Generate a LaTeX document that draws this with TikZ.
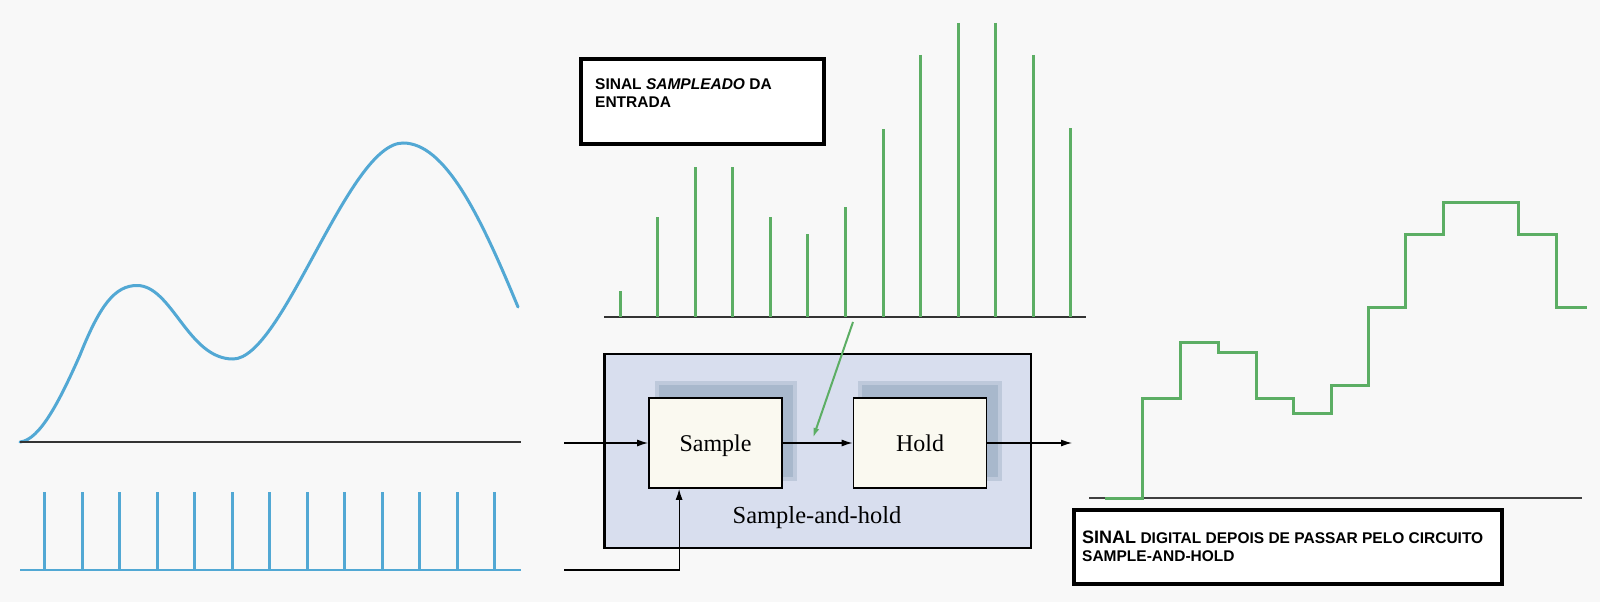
\documentclass[tikz,border=0pt]{standalone}
\usepackage{fontspec}
\setmainfont{Liberation Serif}
\newfontfamily\labelfont{Liberation Sans}
\usetikzlibrary{arrows.meta}
\definecolor{bluesig}{RGB}{82,168,212}
\definecolor{greensig}{RGB}{92,174,100}
\definecolor{shlfill}{RGB}{216,222,238}
\definecolor{shadowc}{RGB}{168,184,204}
\definecolor{boxfill}{RGB}{250,249,240}
\definecolor{bgc}{RGB}{248,248,248}
\begin{document}
\begin{tikzpicture}[x=1pt,y=-1pt,
  blk/.style={draw=black,line width=1.8pt,fill=boxfill,minimum width=133pt,minimum height=90pt,inner sep=0pt,text height=16pt,text depth=0pt,font=\fontsize{24}{24}\selectfont},
  conn/.style={line width=1.2pt,-{Latex[length=11pt,width=7pt]}},
  lblbox/.style={draw=black,line width=3.5pt,fill=white,inner sep=0pt},
  lbltext/.style={anchor=base west,inner sep=0pt,font=\labelfont\bfseries\fontsize{15.5}{18}\selectfont},
  bluepulse/.style={bluesig,line width=3pt},
  greenpulse/.style={greensig,line width=3pt},
  axisline/.style={black!80,line width=1.2pt}
]
\fill[bgc] (0,0) rectangle (1600,602);
\useasboundingbox (0,0) rectangle (1600,602);

% ---- analog input signal ----
\draw[bluesig,line width=3pt,line cap=round] (20,442)
  .. controls (40,440) and (60,400) .. (80,355)
  .. controls (100,305) and (115,285.5) .. (137,285.5)
  .. controls (172,285.5) and (188,359) .. (233,359)
  .. controls (283,359) and (348,143) .. (403,143)
  .. controls (445,143) and (480,215) .. (518,307);
\draw[axisline] (20,442) -- (521,442);

% ---- sampling pulses ----
\draw[bluesig,line width=1.3pt] (20,570) -- (521,570);
\foreach \i in {0,...,12} \draw[bluepulse] ({44.6+37.5*\i},492) -- ({44.6+37.5*\i},570);

% ---- sampled signal ----
\draw[axisline] (604,317) -- (1086,317);
\foreach \i/\t in {0/291,1/217,2/167,3/167,4/217,5/234,6/207,7/129,8/55,9/23,10/23,11/55,12/128}
  \draw[greenpulse] ({620+37.58*\i},\t) -- ({620+37.58*\i},317);

\node[lblbox,minimum width=243pt,minimum height=85pt] (lab1) at (702.5,101.5) {};
\node[lbltext] (lab1a) at (595,89) {SINAL \textit{SAMPLEADO} DA};
\node[lbltext] (lab1b) at (595,107) {ENTRADA};

% ---- sample-and-hold block ----
\node[draw=black,line width=2.5pt,fill=shlfill,minimum width=426.5pt,minimum height=194pt,inner sep=0pt] (shl) at (817.5,451) {};
\fill[shadowc!55!shlfill] (655,381) rectangle (797,481);
\fill[shadowc!55!shlfill] (858,381) rectangle (1002,481);
\fill[shadowc] (659,385) rectangle (793,477);
\fill[shadowc] (862,385) rectangle (998,477);
\node[blk] (samp) at (715.5,443) {Sample};
\node[blk] (hold) at (920,443) {Hold};
\node[anchor=base,inner sep=0pt,font=\fontsize{24.5}{24.5}\selectfont] (shltext) at (817,523) {Sample-and-hold};

\coordinate (inL) at (564,443);
\coordinate (clkL) at (564,570);
\coordinate (outR) at (1072,443);
\draw[conn] (inL) -- (samp.west);
\draw[conn] (samp.east) -- (hold.west);
\draw[conn] (hold.east) -- (outR);
\draw[conn] (clkL) -| ([xshift=31pt]samp.south west);

\coordinate (gs) at (853,322);
\coordinate (gt) at (813,438);
\draw[greensig,line width=2pt,-{Latex[length=10pt,width=6pt]}] (gs) -- (gt);

% ---- held output ----
\draw[black!75,line width=1.1pt] (1089,498) -- (1582,498);
\draw[greensig,line width=3pt,line join=miter] (1105,498) -- (1142,498) -- (1142,398) -- (1180,398) -- (1180,342)
 -- (1218,342) -- (1218,352) -- (1256,352) -- (1256,398) -- (1293,398) -- (1293,413)
 -- (1331,413) -- (1331,385) -- (1368,385) -- (1368,307) -- (1405,307) -- (1405,234)
 -- (1443,234) -- (1443,202) -- (1518,202) -- (1518,234) -- (1556,234) -- (1556,307) -- (1587,307);

\node[lblbox,minimum width=428pt,minimum height=74pt] (lab2) at (1288,547) {};
\node[lbltext] (lab2a) at (1082,543) {{\fontsize{18}{18}\selectfont SINAL} DIGITAL DEPOIS DE PASSAR PELO CIRCUITO};
\node[lbltext] (lab2b) at (1082,561) {SAMPLE-AND-HOLD};
\end{tikzpicture}
\end{document}
